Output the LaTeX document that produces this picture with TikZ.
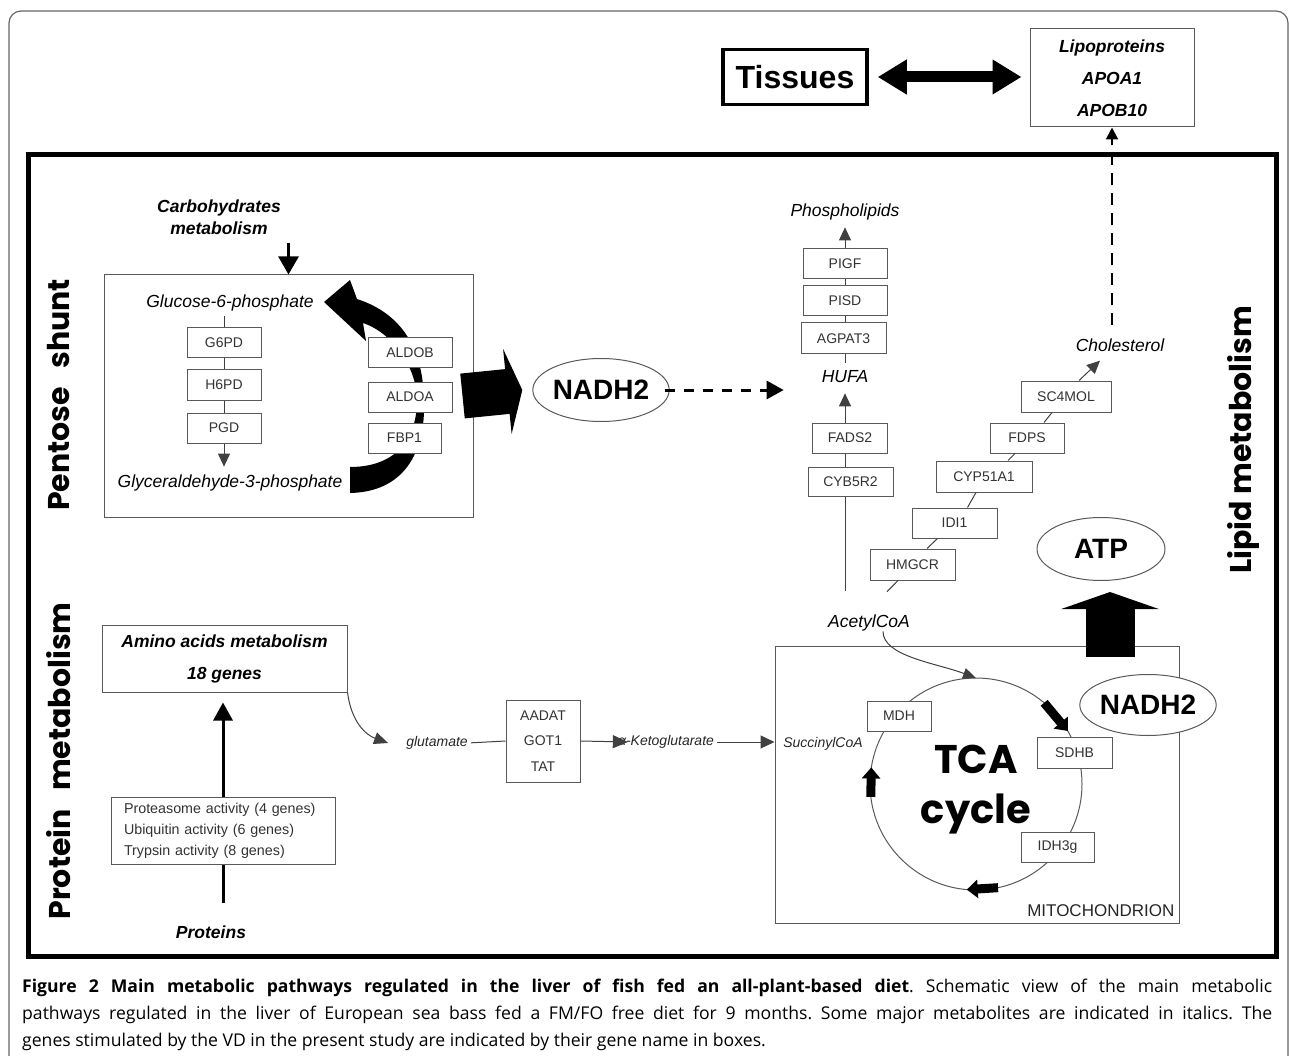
\documentclass[tikz,border=0pt]{standalone}
\usepackage{fontspec}
\setmainfont{Liberation Sans}
\newfontfamily\capfont{Open Sans}
\newfontfamily\handfont{Poppins}
\usetikzlibrary{arrows.meta,backgrounds,shapes.geometric}

\begin{document}
\begin{tikzpicture}[x=1pt,y=-1pt,
  gene/.style={draw=black!65,fill=white,text=black!80,line width=1pt,
    font=\fontsize{14}{16}\selectfont,minimum width=#1,minimum height=30pt,inner sep=0pt},
  gene/.default=75pt,
  meta/.style={font=\fontsize{17.5}{20}\selectfont\itshape,inner sep=0pt},
  smeta/.style={font=\fontsize{14}{16}\selectfont\itshape,text=black!85,inner sep=0pt},
  bmeta/.style={font=\fontsize{17.5}{20}\selectfont\bfseries\itshape,inner sep=0pt},
  panel/.style={draw=black!65,line width=1pt,inner sep=0pt},
  cof/.style={ellipse,draw=black!65,fill=white,line width=1pt,minimum width=128pt,
    minimum height=63pt,inner sep=0pt,font=\fontsize{28}{30}\selectfont\bfseries},
  sidelabel/.style={rotate=90,inner sep=0pt,font=\handfont\bfseries\fontsize{30}{32}\selectfont},
  link/.style={draw=black!75,line width=1pt},
  arr/.style={-{Triangle[length=13pt,width=12pt]}},
  cycarr/.style={line width=9pt,-{Triangle[length=11pt,width=18pt]}},
]
\useasboundingbox (0,0) rectangle (1290,1056);

\draw[black!60,line width=1.2pt,rounded corners=12pt] (9,1070) -- (9,11) -- (1288,11) -- (1288,1070);
\draw[line width=5pt] (28,155) rectangle (1276,956);

% side titles
\node[sidelabel] (pentlbl) at (59,395) {Pentose\hspace{0.4em} shunt};
\node[sidelabel] (protlbl) at (59,761) {Protein\hspace{0.4em} metabolism};
\node[sidelabel] (lipidlbl) at (1243,440) {Lipid metabolism};

% tissues and lipoproteins
\node[draw,line width=3.5pt,minimum width=144pt,minimum height=55pt,inner sep=0pt,
  font=\fontsize{32}{34}\selectfont\bfseries] (tis) at (795,77) {Tissues};
\node[panel,minimum width=164pt,minimum height=98pt,align=center,
  font=\fontsize{17.5}{32}\selectfont\bfseries\itshape] (lipo) at (1112,78) {Lipoproteins\\APOA1\\APOB10};
\draw[line width=11pt,{Triangle[length=29pt,width=33pt]}-{Triangle[length=29pt,width=33pt]},
  shorten <=9pt,shorten >=8pt] (tis.east) -- (tis.east -| lipo.west);

% pentose shunt
\node[panel,minimum width=369pt,minimum height=242pt] (pent) at (288.5,396) {};
\node[bmeta,align=center,font=\fontsize{17.5}{22}\selectfont\bfseries\itshape] (carb) at (219,217) {Carbohydrates\\metabolism};
\node[meta] (glc) at (230,303) {Glucose-6-phosphate};
\node[meta] (gly) at (230,483) {Glyceraldehyde-3-phosphate};
\node[gene=74pt] (g6pd) at (224,343) {G6PD};
\node[gene=74pt] (h6pd) at (224,385) {H6PD};
\node[gene=74pt] (pgd) at (224,428) {PGD};
\node[gene=84pt] (aldob) at (410,353) {ALDOB};
\node[gene=84pt] (aldoa) at (410,397) {ALDOA};
\node[gene=73pt] (fbp) at (404.5,438) {FBP1};

\draw[line width=2.5pt,-{Triangle[length=18pt,width=20pt]},shorten <=8pt] (carb.south -| pent.north) -- (pent.north);
\draw[link,shorten <=5pt] (glc.south -| g6pd.north) -- (g6pd.north);
\draw[link] (g6pd) -- (h6pd);
\draw[link] (h6pd) -- (pgd);
\draw[link,arr,shorten >=8pt] (pgd.south) -- (pgd.south |- gly.north);

\begin{scope}[on background layer]
\fill (350,493) .. controls (402,492) and (426,455) .. (424,400)
  .. controls (423,350) and (403,314) .. (357,299)
  -- (350,280) -- (324,302) -- (366,341) -- (363,323)
  .. controls (393,333) and (417,368) .. (417,400)
  .. controls (417,440) and (395,467) .. (350,467) -- cycle;
\end{scope}

\node[cof] (nadhA) at (601,390) {NADH2};
\draw[line width=45pt,-{Triangle[length=15pt,width=85pt]}] ([xshift=-11pt]pent.east) -- ([xshift=-10pt]nadhA.west);

% lipid metabolism
\node[meta] (phos) at (845,212) {Phospholipids};
\node[gene=84pt] (pigf) at (845,264) {PIGF};
\node[gene=84pt] (pisd) at (845,301) {PISD};
\node[gene=85pt,minimum height=31pt] (agpat) at (843.5,338.5) {AGPAT3};
\node[meta] (hufa) at (845,377) {HUFA};
\node[gene=75pt] (fads) at (850,438) {FADS2};
\node[gene=85pt,minimum height=29pt] (cyb) at (850.5,481.5) {CYB5R2};
\node[meta] (acoa) at (869,623) {AcetylCoA};
\node[gene=85pt,minimum height=31pt] (hmgcr) at (912.5,564.5) {HMGCR};
\node[gene=85pt] (idi) at (954.5,523) {IDI1};
\node[gene=96pt,minimum height=31pt] (cyp) at (984,476.5) {CYP51A1};
\node[gene=74pt] (fdps) at (1027,438) {FDPS};
\node[gene=90pt,minimum height=31pt] (sc4) at (1066,396.5) {SC4MOL};
\node[meta] (chol) at (1120,345) {Cholesterol};

\begin{scope}[on background layer]
\draw[link,arr,shorten <=8pt,shorten >=7pt] (hufa.north) -- (hufa.north |- phos.south);
\draw[link,arr,shorten <=24pt,shorten >=10pt] (hufa |- acoa.north) -- (hufa.south);
\end{scope}
\draw[line width=3pt,dash pattern=on 10pt off 9pt,-{Triangle[length=17pt,width=18pt]},
  shorten <=-5pt,shorten >=38pt] (nadhA.east) -- (nadhA.east -| hufa.west);
\draw[link] ([shift={(18,-23)}]acoa.north) -- ([xshift=-14.5pt]hmgcr.south);
\draw[link] ([xshift=14.5pt]hmgcr.north) -- ([xshift=-17pt]idi.south);
\draw[link] ([xshift=13pt]idi.north) -- ([xshift=-8pt]cyp.south);
\draw[link] ([xshift=24pt]cyp.north) -- ([xshift=-12pt]fdps.south);
\draw[link] ([xshift=17pt]fdps.north) -- ([xshift=-14pt]sc4.south);
\draw[link,arr] ([xshift=13pt]sc4.north) -- ([shift={(-20,9)}]chol.south);
\draw[line width=2pt,dash pattern=on 12pt off 8pt,-{Triangle[length=12pt,width=12pt]},
  shorten <=13pt] (lipo.south |- chol.north) -- (lipo.south);

% protein metabolism
\node[panel,minimum width=245pt,minimum height=67pt,align=center,
  font=\fontsize{17.5}{32}\selectfont\bfseries\itshape] (amino) at (224.5,658.5) {Amino acids metabolism\\18 genes};
\node[panel,fill=white,minimum width=224pt,minimum height=67pt,text width=198pt,align=left,
  text=black!80,font=\fontsize{14.3}{21}\selectfont] (prot) at (223,830.5)
  {Proteasome activity (4 genes)\\Ubiquitin activity (6 genes)\\Trypsin activity (8 genes)};
\node[bmeta] (proteins) at (211,932) {Proteins};
\begin{scope}[on background layer]
\draw[line width=3pt,-{Triangle[length=18pt,width=19pt]},shorten <=22pt,shorten >=10pt]
  (proteins.north -| prot) -- (amino.south -| prot);
\end{scope}

\node[smeta] (glu) at (437,743) {glutamate};
\node[panel,minimum width=74pt,minimum height=82pt,align=center,text=black!80,
  font=\fontsize{14}{25.5}\selectfont] (aadat) at (543,741) {AADAT\\GOT1\\TAT};
\node[smeta] (akg) at (666,742) {α-Ketoglutarate};
\draw[link,-{Triangle[length=14pt,width=12pt]}] (amino.south east) .. controls +(4,30) and +(-22,-8) .. ([xshift=-18pt]glu.west);
\draw[link,shorten <=3pt] (glu.east) -- (aadat.west);
\draw[link,-{Triangle[length=15pt,width=13pt]}] (aadat.east) -- ([xshift=10pt]akg.west);

% mitochondrion
\node[panel,minimum width=404pt,minimum height=277pt] (mito) at (977,784.5) {};
\node[font=\fontsize{17}{19}\selectfont,text=black!85,anchor=base east,inner sep=0pt] (mitolbl)
  at ([shift={(-5,-7)}]mito.south east) {MITOCHONDRION};
\draw[link,-{Triangle[length=14pt,width=13pt]},shorten <=3pt] (akg.east) -- (akg.east -| mito.west);
\node[smeta] (succ) at (823,744) {SuccinylCoA};
\coordinate (tca) at (976,784);
\begin{scope}[on background layer]
\draw[black!65,line width=1pt] (tca) circle (106);
\end{scope}
\node[gene=64pt] (mdh) at (899,716) {MDH};
\node[gene=75pt,minimum height=31pt] (sdhb) at (1074.5,752.5) {SDHB};
\node[gene=73pt] (idh) at (1057.5,847) {IDH3g};
\node[align=center,inner sep=0pt,font=\handfont\bfseries\fontsize{40}{50}\selectfont] (tcalbl) at (976,790) {TCA\\cycle};
\draw[cycarr] ([shift={(-50:106)}]tca) -- ([shift={(-30:106)}]tca);
\draw[cycarr] ([shift={(78:106)}]tca) -- ([shift={(95:106)}]tca);
\draw[cycarr] ([shift={(173:106)}]tca) -- ([shift={(189:106)}]tca);
\draw[link,-{Triangle[length=13pt,width=11pt]}] ([xshift=14pt]acoa.south) .. controls +(0,25) and +(-40,-15) .. ([shift={(0,-106)}]tca);

\node[cof] (atp) at (1101,549) {ATP};
\node[cof,minimum width=127pt,minimum height=61pt] (nadhB) at (1148,705) {NADH2};
\coordinate (atpfoot) at (1110,657);
\draw[line width=49pt,-{Triangle[length=17pt,width=97pt]},shorten >=11pt] (atpfoot) -- (atpfoot |- atp.south);

% caption
\node[anchor=north west,text width=1250pt,align=justify,inner sep=0pt,
  font=\capfont\fontsize{17.6}{27}\selectfont] (cap) at (22,979)
  {\frenchspacing\textbf{Figure 2 Main metabolic pathways regulated in the liver of fish fed an all-plant-based diet}. Schematic view of the main metabolic\linebreak
  pathways regulated in the liver of European sea bass fed a FM/FO free diet for 9 months. Some major metabolites are indicated in italics. The\linebreak
  genes stimulated by the VD in the present study are indicated by their gene name in boxes.};
\end{tikzpicture}
\end{document}
